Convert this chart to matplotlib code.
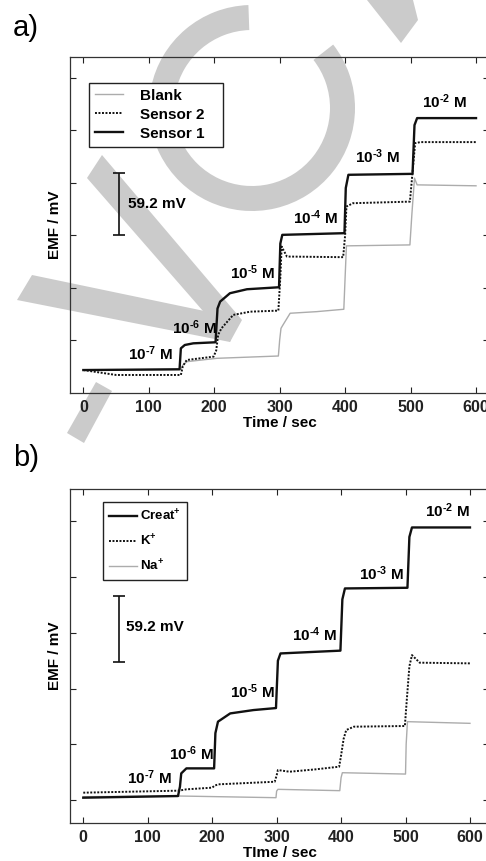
import matplotlib
matplotlib.use('Agg')
import matplotlib.pyplot as plt
from matplotlib.patches import Wedge, Polygon

plt.rcParams['font.family'] = ['Liberation Sans', 'DejaVu Sans']
plt.rcParams['font.weight'] = 'bold'
plt.rcParams['mathtext.fontset'] = 'custom'
plt.rcParams['mathtext.rm'] = 'Liberation Sans:bold'
plt.rcParams['mathtext.it'] = 'Liberation Sans:bold'
plt.rcParams['mathtext.bf'] = 'Liberation Sans:bold'

# ---- panel a data (time in s, EMF in mV) ----
a_t_s1 = [0, 147, 149, 155, 168, 202, 205, 209, 224, 250, 299, 301, 304, 399, 401, 405, 503, 506, 510, 600]
a_v_s1 = [-28.7, -28.0, -8.0, -4.8, -3.2, -2.2, 30, 36.6, 44.6, 48.4, 50.3, 92, 100.3, 101.9, 145, 157.6, 158.5, 205, 211.7, 211.7]
a_t_s2 = [0, 50, 149, 152, 158, 199, 203, 206, 211, 229, 255, 298, 301, 303, 311, 397, 400, 402, 412, 499, 503, 507, 515, 600]
a_v_s2 = [-28.7, -33.4, -33.4, -25, -19.1, -15.9, -10, 5, 11.1, 23.9, 27.0, 28.0, 60, 89.1, 79.6, 79.0, 100, 127.3, 130.5, 132.0, 160, 187.8, 188.8, 188.8]
a_t_blank = [0, 149, 152, 158, 204, 298, 300, 302, 305, 316, 356, 398, 400, 402, 499, 502, 506, 510, 600]
a_v_blank = [-28.7, -28.0, -24, -20.7, -17.5, -15.3, 0, 11.1, 14.3, 25.5, 27.0, 29.3, 60, 89.8, 90.7, 120, 154.4, 148.0, 147.1]

a_conc_labels = [r'10$^{\text{-7}}$ M', r'10$^{\text{-6}}$ M', r'10$^{\text{-5}}$ M',
                 r'10$^{\text{-4}}$ M', r'10$^{\text{-3}}$ M', r'10$^{\text{-2}}$ M']
a_conc_t = [103, 169, 258, 355, 450, 552]
a_conc_v = [-13, 12, 64, 117, 174.5, 227]

# ---- panel b data ----
b_t_creat = [0, 147, 150, 152, 160, 203, 205, 209, 228, 264, 299, 302, 306, 399, 402, 406, 503, 506, 510, 600]
b_v_creat = [2.1, 3.6, 12, 23.9, 28.4, 28.4, 60, 70.3, 77.7, 80.7, 82.5, 125, 131.5, 134.0, 180, 189.8, 190.4, 236, 244.5, 244.5]
b_t_k = [0, 148, 160, 200, 204, 210, 297, 300, 302, 320, 360, 397, 400, 404, 408, 420, 499, 502, 506, 510, 522, 600]
b_v_k = [6.6, 8.4, 9.6, 11.1, 13, 14.1, 16.4, 22, 26.9, 25.4, 27.5, 29.9, 40, 55, 62.8, 65.8, 66.4, 90, 120, 130.0, 123.2, 122.6]
b_t_na = [0, 150, 299, 300, 302, 398, 400, 402, 500, 501, 503, 600]
b_v_na = [3.0, 3.6, 2.1, 8, 9.6, 8.4, 20, 24.5, 23.3, 50, 70.3, 68.8]

b_conc_labels = a_conc_labels
b_conc_t = [102, 168, 262, 358, 462, 565]
b_conc_v = [20.3, 41.9, 97.2, 148, 203.3, 259.5]

xticks = [0, 100, 200, 300, 400, 500, 600]
yticks = [0, 50, 100, 150, 200, 250]

GREY = '#acacac'
WM = '#cbcbcb'

fig = plt.figure(figsize=(4.86, 8.61), dpi=100)

# watermark behind everything (pixel coordinates of the figure)
bg = fig.add_axes([0, 0, 1, 1], zorder=-10)
bg.set_xlim(0, 486)
bg.set_ylim(861, 0)
bg.axis('off')
bg.add_patch(Wedge((252, 108), 103, -38, 268, width=25, color=WM, lw=0))
bg.add_patch(Polygon([(367, 0), (413, 0), (418, 20), (401, 43)], color=WM, lw=0))
bg.add_patch(Polygon([(102, 155), (242, 320), (230, 342), (87, 178)], color=WM, lw=0))
bg.add_patch(Polygon([(32, 275), (238, 318), (230, 342), (17, 300)], color=WM, lw=0))
bg.add_patch(Polygon([(96, 382), (112, 391), (84, 443), (67, 433)], color=WM, lw=0))

ax_a = fig.add_axes([70 / 486, 1 - 393 / 861, 419.1 / 486, 336 / 861])
ax_b = fig.add_axes([70 / 486, 1 - 823 / 861, 419.3 / 486, 334 / 861])


def style(ax, xlim, ylim, xlabel):
    ax.set_facecolor('none')
    ax.set_xlim(*xlim)
    ax.set_ylim(*ylim)
    ax.set_xticks(xticks)
    ax.set_yticks(yticks)
    ax.tick_params(direction='in', top=True, right=True, length=4, width=0.8,
                   labelsize=11.5, pad=5, labelleft=False, colors='#222222')
    for s in ax.spines.values():
        s.set_linewidth(0.9)
        s.set_color('#333333')
    for lab in ax.get_xticklabels():
        lab.set_fontweight('bold')
    ax.set_xlabel(xlabel, fontsize=11, fontweight='bold', labelpad=1)
    ax.set_ylabel('EMF / mV', fontsize=11, fontweight='bold')
    ax.yaxis.set_label_coords(-0.018, 0.5)


# panel a
la_b, = ax_a.plot(a_t_blank, a_v_blank, color=GREY, lw=1.0)
la_2, = ax_a.plot(a_t_s2, a_v_s2, color='#111111', lw=1.4, ls=(0, (1, 0.8)))
la_1, = ax_a.plot(a_t_s1, a_v_s1, color='#111111', lw=1.7)
style(ax_a, (-20.4, 620), (-50.6, 270), 'Time / sec')
leg = ax_a.legend([la_b, la_2, la_1], ['Blank   ', 'Sensor 2   ', 'Sensor 1   '], loc='upper left',
                  bbox_to_anchor=(0.045, 0.923), borderaxespad=0, fancybox=False,
                  edgecolor='#222222', framealpha=1, fontsize=11, handlelength=1.85,
                  handletextpad=1.1, labelspacing=0.33, borderpad=0.38)
leg.get_frame().set_linewidth(1.0)
for txt, t, v in zip(a_conc_labels, a_conc_t, a_conc_v):
    ax_a.text(t, v, txt, ha='center', va='center', fontsize=11, fontweight='bold')
ax_a.errorbar([55], [129.6], yerr=[29.6], color='#111111', capsize=4, lw=1.2, capthick=1.2)
ax_a.text(68, 130, '59.2 mV', ha='left', va='center', fontsize=11, fontweight='bold')

# panel b
lb_na, = ax_b.plot(b_t_na, b_v_na, color=GREY, lw=1.0)
lb_k, = ax_b.plot(b_t_k, b_v_k, color='#111111', lw=1.4, ls=(0, (1, 0.8)))
lb_c, = ax_b.plot(b_t_creat, b_v_creat, color='#111111', lw=1.7)
style(ax_b, (-20.6, 630), (-20.6, 279), 'TIme / sec')
leg = ax_b.legend([lb_c, lb_k, lb_na], [r'Creat$^{+}$', r'K$^{+}$', r'Na$^{+}$'], loc='upper left',
                  bbox_to_anchor=(0.079, 0.961), borderaxespad=0, fancybox=False,
                  edgecolor='#222222', framealpha=1, fontsize=9.5, handlelength=2.1,
                  handletextpad=0.25, labelspacing=0.75, borderpad=0.45)
leg.get_frame().set_linewidth(1.0)
for txt, t, v in zip(b_conc_labels, b_conc_t, b_conc_v):
    ax_b.text(t, v, txt, ha='center', va='center', fontsize=11, fontweight='bold')
ax_b.errorbar([56], [153.6], yerr=[29.6], color='#111111', capsize=4, lw=1.2, capthick=1.2)
ax_b.text(67, 155.5, '59.2 mV', ha='left', va='center', fontsize=11, fontweight='bold')

fig.text(13 / 486, 1 - 36 / 861, 'a)', fontsize=21, fontweight='normal', va='baseline', ha='left')
fig.text(13 / 486, 1 - 466.5 / 861, 'b)', fontsize=21, fontweight='normal', va='baseline', ha='left')

fig.savefig('out.png', dpi=100)
